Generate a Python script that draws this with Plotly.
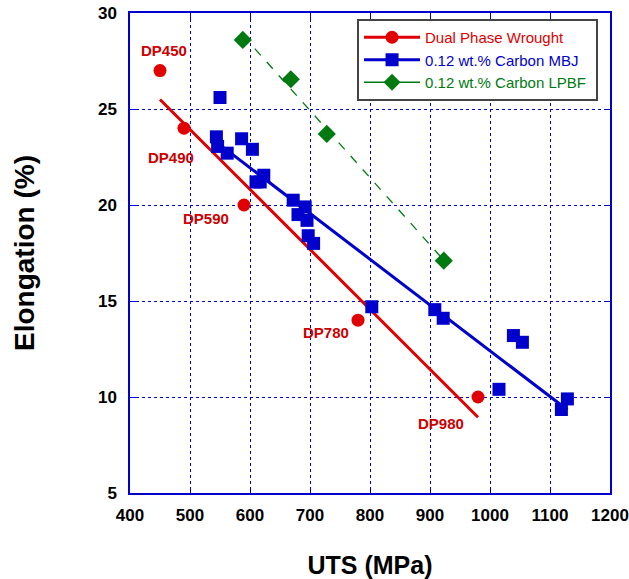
import numpy as np
import plotly.graph_objects as go

# ---------------- data ----------------
dp_uts = [450, 490, 590, 780, 980]
dp_elong = [27.0, 24.0, 20.0, 14.0, 10.0]
dp_labels = ["DP450", "DP490", "DP590", "DP780", "DP980"]
dp_label_x = [456, 468, 527, 727, 918]
dp_label_y = [28.05, 22.5, 19.3, 13.35, 8.6]

mbj_uts = [550, 544, 546, 562, 586, 604, 610, 617, 623, 672, 680, 692, 695,
           697, 706, 803, 908, 922, 1039, 1054, 1015, 1129, 1119]
mbj_elong = [25.6, 23.55, 23.05, 22.7, 23.45, 22.9, 21.2, 21.2, 21.55, 20.25,
             19.5, 19.9, 19.2, 18.4, 18.0, 14.7, 14.55, 14.1, 13.2, 12.85,
             10.4, 9.9, 9.35]

lpbf_uts = [588, 668, 728, 923]
lpbf_elong = [28.6, 26.55, 23.7, 17.1]

x_ticks = [400, 500, 600, 700, 800, 900, 1000, 1100, 1200]
y_ticks = [5, 10, 15, 20, 25, 30]

RED = "#E00000"
BLUE = "#0000CC"
GREEN = "#007A10"
FONT = "Liberation Sans, Arial, sans-serif"


def fit_line(x, y):
    k, b = np.polyfit(x, y, 1)
    xs = np.array([min(x), max(x)])
    return xs, k * xs + b


fig = go.Figure()

# fit lines
for xs, ys, col, w, dash in [
    (*fit_line(dp_uts, dp_elong), RED, 3, "solid"),
    (*fit_line(mbj_uts, mbj_elong), BLUE, 3, "solid"),
    (*fit_line(lpbf_uts, lpbf_elong), GREEN, 1.3, "dash"),
]:
    fig.add_trace(go.Scatter(x=xs, y=ys, mode="lines", showlegend=False,
                             line=dict(color=col, width=w, dash=dash),
                             hoverinfo="skip"))

# markers
fig.add_trace(go.Scatter(x=dp_uts, y=dp_elong, mode="markers", showlegend=False,
                         marker=dict(symbol="circle", size=13, color=RED)))
fig.add_trace(go.Scatter(x=mbj_uts, y=mbj_elong, mode="markers", showlegend=False,
                         marker=dict(symbol="square", size=13, color=BLUE)))
fig.add_trace(go.Scatter(x=lpbf_uts, y=lpbf_elong, mode="markers", showlegend=False,
                         marker=dict(symbol="diamond", size=14, color=GREEN)))

# legend entries
for name, col, sym, w in [
    ("Dual Phase Wrought", RED, "circle", 3),
    ("0.12 wt.% Carbon MBJ", BLUE, "square", 3),
    ("0.12 wt.% Carbon LPBF", GREEN, "diamond", 1.3),
]:
    fig.add_trace(go.Scatter(
        x=[None], y=[None], mode="lines+markers",
        name=f"<span style='color:{col}'>{name}</span> ",
        line=dict(color=col, width=w),
        marker=dict(symbol=sym, size=13, color=col)))

for t, lx, ly in zip(dp_labels, dp_label_x, dp_label_y):
    fig.add_annotation(x=lx, y=ly, text=f"<b>{t}</b>", showarrow=False,
                       font=dict(family=FONT, size=15, color="#CC0000"))

axis_common = dict(
    showline=True, linecolor=BLUE, linewidth=1.5, mirror="ticks",
    ticks="inside", ticklen=6, tickcolor=BLUE, tickwidth=1,
    showgrid=True, gridcolor=BLUE, griddash="dot", gridwidth=1,
    zeroline=False, automargin=False, ticklabeloverflow="allow",
    tickfont=dict(family=FONT, size=17, color="black", weight="bold"),
)

fig.update_xaxes(range=[400, 1200], tickvals=x_ticks,
                 title=dict(text="<b>UTS (MPa)</b>", standoff=32,
                            font=dict(family=FONT, size=25, color="black")),
                 ticklabelstandoff=6, **axis_common)
fig.update_yaxes(range=[5, 30], tickvals=y_ticks,
                 title=dict(text="<b>Elongation (%)</b>", standoff=55,
                            font=dict(family=FONT, size=28, color="black")),
                 ticklabelstandoff=8, **axis_common)

fig.update_layout(
    width=629, height=579,
    margin=dict(l=130, r=19, t=13, b=86, autoexpand=False),
    plot_bgcolor="white", paper_bgcolor="white",
    font=dict(family=FONT, size=15),
    legend=dict(x=0.473, y=0.9875, xanchor="left", yanchor="top",
                bgcolor="white", bordercolor="#444444", borderwidth=2,
                font=dict(family=FONT, size=15), itemwidth=56,
                tracegroupgap=0),
)

fig.write_html("out.html", config={"displayModeBar": False},
               post_script="document.body.style.margin='0';")
